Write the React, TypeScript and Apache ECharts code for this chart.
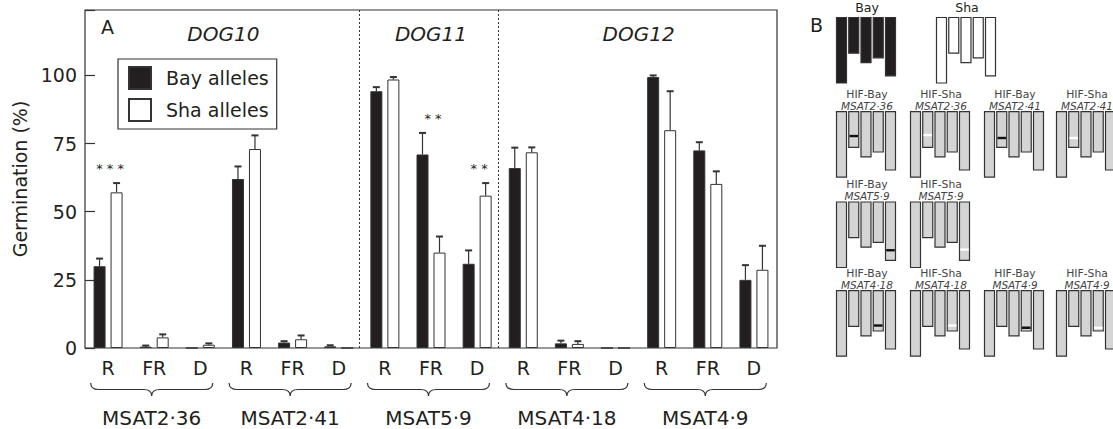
import React, { useEffect, useRef } from "react";
import * as echarts from "echarts";

// ---------- data ----------
const categories = ["R", "FR", "D", "R", "FR", "D", "R", "FR", "D", "R", "FR", "D", "R", "FR", "D"];
const markers = ["MSAT2·36", "MSAT2·41", "MSAT5·9", "MSAT4·18", "MSAT4·9"];
const genes = ["DOG10", "DOG11", "DOG12"];
const geneFirstCat = [0, 6, 9];
const geneLastCat = [5, 8, 14];
const bayValues = [30, 0.5, 0, 62, 2.0, 0.6, 94.2, 71, 30.9, 66, 1.7, 0, 99.4, 72.5, 25];
const bayErrors = [2.8, 0.4, 0, 4.6, 0.5, 0.4, 1.5, 7.9, 4.9, 7.5, 1.0, 0, 0.6, 3.0, 5.4];
const shaValues = [57.1, 3.9, 1.2, 73, 3.2, 0, 98.5, 35, 55.9, 71.8, 1.5, 0, 79.9, 60.2, 28.7];
const shaErrors = [3.4, 1.1, 0.5, 5, 1.4, 0, 0.9, 5.9, 4.6, 1.8, 1.0, 0, 14.3, 4.6, 8.8];
const significance = ["***", "", "", "", "", "", "", "**", "**", "", "", "", "", "", ""];
const yTicks = [0, 25, 50, 75, 100];

// panel B (schematic)
const chromLengths = [1, 0.545, 0.69, 0.615, 0.89];
const parentNames = ["Bay", "Sha"];
const hifLines = ["HIF-Bay", "HIF-Sha", "HIF-Bay", "HIF-Sha", "HIF-Bay", "HIF-Sha", "HIF-Bay", "HIF-Sha", "HIF-Bay", "HIF-Sha"];
const hifMarkers = ["MSAT2·36", "MSAT2·36", "MSAT2·41", "MSAT2·41", "MSAT5·9", "MSAT5·9", "MSAT4·18", "MSAT4·18", "MSAT4·9", "MSAT4·9"];
const hifChrom = [1, 1, 1, 1, 4, 4, 3, 3, 3, 3];
const hifPos = [0.37, 0.355, 0.4, 0.4, 0.735, 0.725, 0.53, 0.53, 0.565, 0.565];

// ---------- layout / style ----------
const FONT = "DejaVu Sans";
const INK = "#231f20";
const LINE = "#333";
const GRID = { left: 85, top: 10, width: 692, height: 338 };
const BAR_W = 12;
const BAR_GAP = 5;
const SIDE = (BAR_W + BAR_GAP) / 2;
const hifSlots = [[0, 0], [0, 1], [0, 2], [0, 3], [1, 0], [1, 1], [2, 0], [2, 1], [2, 2], [2, 3]];
const hifColX = [836, 910, 984, 1056];
const hifRowTop = [111.7, 202, 290.7];
const parentX = [836, 936];
const parentTop = 17.5;
const CH_H = 65.5;
const CH_PITCH = 12.25;
const CH_W = 10;

let braceRegistered = false;
function registerBrace() {
  if (braceRegistered) return;
  const Brace = (echarts.graphic as any).extendShape({
    shape: { x1: 0, x2: 0, y: 0, h: 6, r: 8 },
    buildPath(ctx: any, s: any) {
      const xc = (s.x1 + s.x2) / 2;
      ctx.moveTo(s.x1, s.y - s.h);
      ctx.quadraticCurveTo(s.x1, s.y, s.x1 + s.r, s.y);
      ctx.lineTo(xc - s.r, s.y);
      ctx.quadraticCurveTo(xc, s.y, xc, s.y + s.h);
      ctx.moveTo(xc, s.y + s.h);
      ctx.quadraticCurveTo(xc, s.y, xc + s.r, s.y);
      ctx.lineTo(s.x2 - s.r, s.y);
      ctx.quadraticCurveTo(s.x2, s.y, s.x2, s.y - s.h);
    },
  });
  (echarts.graphic as any).registerShape("brace", Brace);
  braceRegistered = true;
}

function errorRender(side: number) {
  return (params: any, api: any) => {
    const i = api.value(0);
    const v = api.value(1);
    const e = api.value(2);
    if (!(e > 0)) return { type: "group", children: [] };
    const base = api.coord([i, v]);
    const top = api.coord([i, v + e]);
    const x = base[0] + side * SIDE;
    return {
      type: "group",
      children: [
        { type: "line", shape: { x1: x, y1: base[1], x2: x, y2: top[1] }, style: { stroke: LINE, lineWidth: 1.2 } },
        { type: "line", shape: { x1: x - 3.5, y1: top[1], x2: x + 3.5, y2: top[1] }, style: { stroke: LINE, lineWidth: 2 } },
      ],
    };
  };
}

export default function App() {
  const ref = useRef<HTMLDivElement>(null);
  useEffect(() => {
    if (!ref.current) return;
    registerBrace();
    const chart = echarts.init(ref.current, undefined, { renderer: "svg" });
    const option: any = {
      animation: false,
      grid: { ...GRID, show: true, borderColor: LINE, borderWidth: 1.2, backgroundColor: "transparent" },
      legend: {
        orient: "vertical",
        left: 118,
        top: 59,
        data: ["Bay alleles", "Sha alleles"],
        icon: "rect",
        itemWidth: 22,
        itemHeight: 22,
        itemGap: 8,
        padding: [7, 8, 7, 10],
        borderColor: LINE,
        borderWidth: 1.2,
        backgroundColor: "#fff",
        selectedMode: false,
        textStyle: { fontFamily: FONT, fontSize: 19, color: INK, padding: [0, 0, 0, 10] },
      },
      xAxis: {
        type: "category",
        data: categories,
        axisTick: { show: false },
        axisLine: { show: false },
        axisLabel: { margin: 10, fontFamily: FONT, fontSize: 19, color: INK, interval: 0 },
      },
      yAxis: {
        type: "value",
        min: 0,
        max: 124,
        interval: 25,
        name: "Germination (%)",
        nameLocation: "middle",
        nameGap: 50,
        nameTextStyle: { fontFamily: FONT, fontSize: 19, color: INK },
        axisLine: { show: false },
        axisTick: { show: true, inside: true, length: 10, lineStyle: { color: LINE, width: 1.2 } },
        splitLine: { show: false },
        axisLabel: {
          margin: 8,
          fontFamily: FONT,
          fontSize: 19,
          color: INK,
          formatter: (v: number) => (yTicks.includes(v) ? String(v) : ""),
        },
      },
      series: [
        {
          name: "Bay alleles",
          type: "bar",
          data: bayValues,
          barWidth: BAR_W,
          barGap: `${(BAR_GAP / BAR_W) * 100}%`,
          itemStyle: { color: INK, borderColor: LINE, borderWidth: 1 },
        },
        {
          name: "Sha alleles",
          type: "bar",
          data: shaValues,
          barWidth: BAR_W,
          itemStyle: { color: "#fff", borderColor: LINE, borderWidth: 1 },
        },
        {
          type: "custom",
          z: 5,
          data: bayValues.map((v, i) => [i, v, bayErrors[i]]),
          encode: { x: 0, y: 1 },
          renderItem: errorRender(-1),
        },
        {
          type: "custom",
          z: 5,
          data: shaValues.map((v, i) => [i, v, shaErrors[i]]),
          encode: { x: 0, y: 1 },
          renderItem: errorRender(1),
        },
      ],
    };
    chart.setOption(option);

    const px = (i: number) => chart.convertToPixel({ xAxisIndex: 0 }, i) as number;
    const py = (v: number) => chart.convertToPixel({ yAxisIndex: 0 }, v) as number;
    const band = px(1) - px(0);
    const yTop = GRID.top;
    const yBot = GRID.top + GRID.height;
    const g: any[] = [];

    // significance stars
    significance.forEach((s, i) => {
      if (!s) return;
      const top = Math.max(bayValues[i] + bayErrors[i], shaValues[i] + shaErrors[i]);
      g.push({
        type: "text",
        x: px(i) + 2,
        y: py(top) - 8,
        style: { text: s.split("").join(" "), fontFamily: FONT, fontSize: 13, fill: INK, align: "center", verticalAlign: "bottom" },
        z: 10,
      });
    });

    // dividers between genes
    for (let k = 1; k < geneFirstCat.length; k++) {
      const x = Math.round(px(geneFirstCat[k]) - band / 2 - 2.5) + 0.5;
      g.push({ type: "line", shape: { x1: x, y1: yTop, x2: x, y2: yBot }, style: { stroke: LINE, lineWidth: 1, lineDash: [2, 2] }, z: 10 });
    }
    // gene titles
    genes.forEach((name, k) => {
      const x = (px(geneFirstCat[k]) + px(geneLastCat[k])) / 2;
      g.push({ type: "text", x, y: yTop + 24, style: { text: name, fontFamily: FONT, fontSize: 20, fontStyle: "italic", fill: INK, align: "center", verticalAlign: "middle" }, z: 10 });
    });
    g.push({ type: "text", x: GRID.left + 16, y: yTop + 17, style: { text: "A", fontFamily: FONT, fontSize: 19, fill: INK, align: "left", verticalAlign: "middle" }, z: 10 });

    // braces + marker names
    markers.forEach((m, k) => {
      const c = (px(3 * k) + px(3 * k + 2)) / 2 - 2.5;
      const half = 61;
      g.push({ type: "brace", shape: { x1: c - half, x2: c + half, y: 389.5, h: 6.5, r: 8 }, style: { stroke: LINE, fill: "none", lineWidth: 1.2 }, z: 10 });
      g.push({ type: "text", x: c, y: 418, style: { text: m, fontFamily: FONT, fontSize: 20, fill: INK, align: "center", verticalAlign: "middle" }, z: 10 });
    });

    // panel B
    g.push({ type: "text", x: 810, y: 25, style: { text: "B", fontFamily: FONT, fontSize: 19, fill: INK, align: "left", verticalAlign: "middle" } });
    const drawChroms = (x0: number, top: number, fill: string) => {
      chromLengths.forEach((len, j) => {
        g.push({
          type: "rect",
          shape: { x: x0 + j * CH_PITCH + 0.5, y: top, width: CH_W, height: CH_H * len },
          style: { fill, stroke: LINE, lineWidth: 1.2 },
        });
      });
    };
    parentNames.forEach((n, p) => {
      g.push({ type: "text", x: parentX[p] + 31, y: 7, style: { text: n, fontFamily: FONT, fontSize: 12.5, fill: INK, align: "center", verticalAlign: "middle" } });
      drawChroms(parentX[p], parentTop, p === 0 ? INK : "#fff");
    });
    hifLines.forEach((ln, h) => {
      const [r, c] = hifSlots[h];
      const x0 = hifColX[c];
      const top = hifRowTop[r];
      g.push({ type: "text", x: x0 + 31, y: top - 17.5, style: { text: ln, fontFamily: FONT, fontSize: 10.8, fill: "#444", align: "center", verticalAlign: "middle" } });
      g.push({ type: "text", x: x0 + 31, y: top - 6, style: { text: hifMarkers[h], fontFamily: FONT, fontSize: 10.5, fontStyle: "italic", fill: "#444", align: "center", verticalAlign: "middle" } });
      drawChroms(x0, top, "#d4d4d4");
      const ch = hifChrom[h];
      g.push({
        type: "rect",
        shape: { x: x0 + ch * CH_PITCH + 1.2, y: top + CH_H * hifPos[h] - 1.1, width: CH_W - 1.4, height: 2.4 },
        style: { fill: ln === "HIF-Bay" ? "#111" : "#fff" },
      });
    });

    chart.setOption({ graphic: g });
    return () => chart.dispose();
  }, []);
  return <div ref={ref} style={{ position: "absolute", left: 0, top: 0, width: 1113, height: 429, background: "#fff" }} />;
}
